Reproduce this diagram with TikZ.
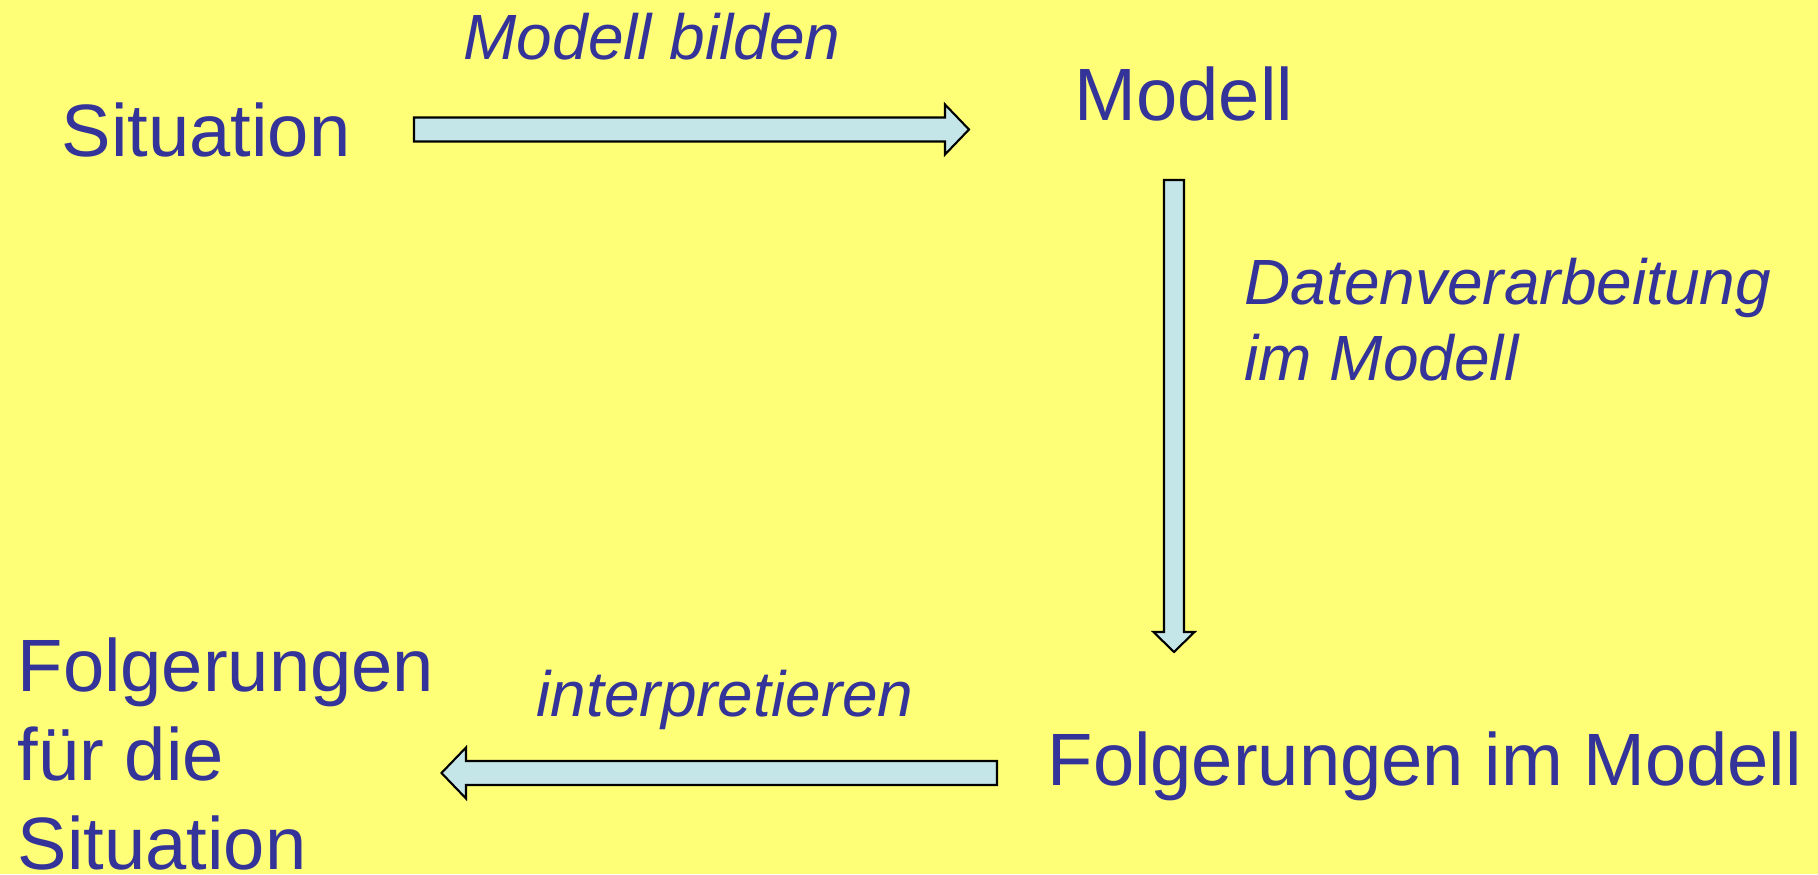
\documentclass[tikz,border=0pt]{standalone}
\usepackage{fontspec}
\setmainfont{Liberation Sans}
\usetikzlibrary{calc}
\definecolor{bgyellow}{RGB}{255,255,119}
\definecolor{txtblue}{RGB}{51,51,153}
\definecolor{arrowfill}{RGB}{196,230,232}
\tikzset{
	% fat outlined arrow: #1 half shaft, #2 half head, #3 head length
	blockarrow/.style n args={3}{draw=black, fill=arrowfill, line width=0.6pt,
		to path={
			($(\tikztotarget)!#3!(\tikztostart)$) coordinate (ah)
			($(\tikztostart)!#1!-90:(\tikztotarget)$)
			-- ($(ah)!#1!90:(\tikztostart)$) -- ($(ah)!#2!90:(\tikztostart)$)
			-- (\tikztotarget)
			-- ($(ah)!#2!-90:(\tikztostart)$) -- ($(ah)!#1!-90:(\tikztostart)$)
			-- ($(\tikztostart)!#1!90:(\tikztotarget)$) -- cycle}},
	bigtext/.style={font=\fontsize{21.1pt}{25.2pt}\selectfont, text=txtblue, inner sep=0pt, anchor=base west},
	labeltext/.style={font=\fontsize{18.2pt}{21.6pt}\selectfont\itshape, text=txtblue, inner sep=0pt, anchor=base west}
}
\begin{document}
\begin{tikzpicture}
	\fill[bgyellow] (0,0) rectangle (18.18,8.74);
	\useasboundingbox (0,0) rectangle (18.18,8.74);
	% the four stations (base = last line)
	\node[bigtext] (sit) at (0.61,7.17) {Situation};
	\node[bigtext] (mod) at (10.74,7.53) {Modell};
	\node[bigtext] (resm) at (10.47,0.89) {Folgerungen im Modell};
	\node[bigtext, align=left] (ress) at (0.17,0.05) {Folgerungen\\für die\\Situation};
	% what happens on the way
	\node[labeltext] (build) at (4.63,8.14) {Modell bilden};
	\node[labeltext, align=left] (proc) at (12.44,4.94) {Datenverarbeitung\\im Modell};
	\node[labeltext] (interp) at (5.36,1.58) {interpretieren};
	\path (4.14,7.445) coordinate (a1s) (9.69,7.445) coordinate (a1e)
		(11.74,6.94) coordinate (a2s) (11.74,2.22) coordinate (a2e)
		(9.97,1.01) coordinate (a3s) (4.415,1.01) coordinate (a3e);
	\foreach \s/\e/\w/\h/\l in {a1s/a1e/0.12cm/0.25cm/0.24cm, a2s/a2e/0.10cm/0.205cm/0.20cm, a3s/a3e/0.12cm/0.255cm/0.245cm}{
		\draw[blockarrow={\w}{\h}{\l}] (\s) to (\e);
	}
\end{tikzpicture}
\end{document}
